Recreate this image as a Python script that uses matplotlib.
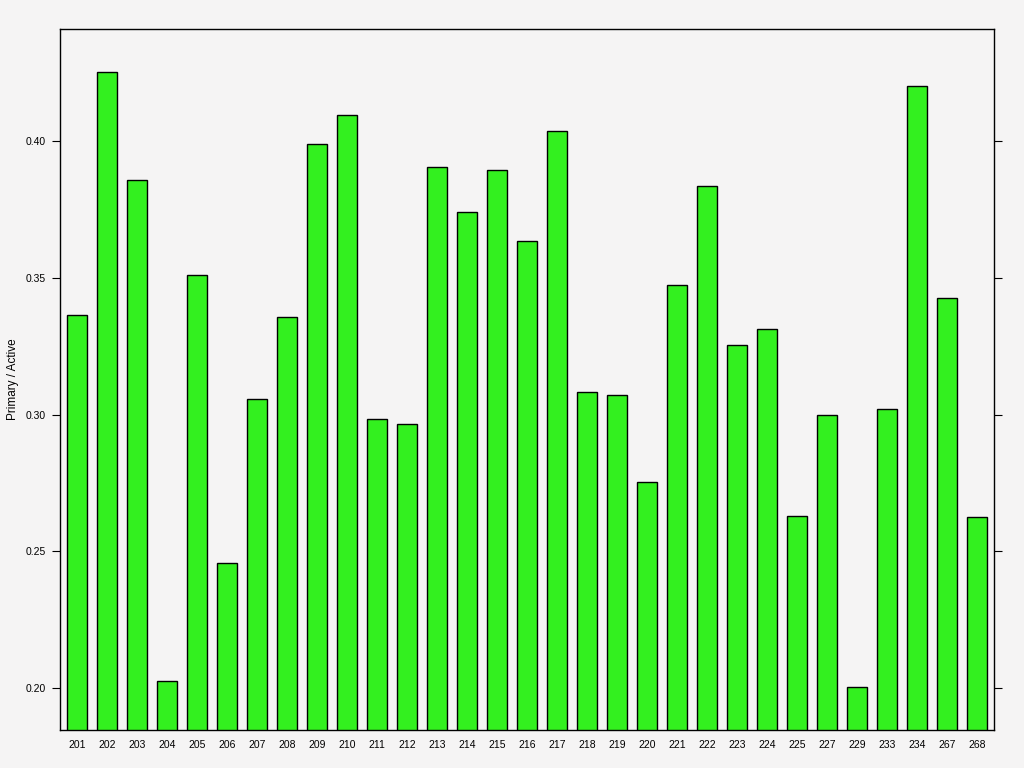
import matplotlib
matplotlib.use("Agg")
import matplotlib.pyplot as plt

plt.rcParams["font.family"] = ["Liberation Sans", "DejaVu Sans"]

# Bar labels and values
groups = ["201", "202", "203", "204", "205", "206", "207", "208", "209", "210",
          "211", "212", "213", "214", "215", "216", "217", "218", "219", "220",
          "221", "222", "223", "224", "225", "227", "229", "233", "234", "267", "268"]
ratios = [0.3365, 0.4252, 0.3858, 0.2026, 0.3511, 0.2456, 0.3058, 0.3358, 0.3989, 0.4095,
          0.2985, 0.2964, 0.3905, 0.3741, 0.3894, 0.3635, 0.4036, 0.3084, 0.3073, 0.2755,
          0.3474, 0.3836, 0.3255, 0.3314, 0.2628, 0.3000, 0.2004, 0.3022, 0.4201, 0.3427, 0.2624]
y_ticks = [0.20, 0.25, 0.30, 0.35, 0.40]

bg = "#f5f4f4"
fig = plt.figure(figsize=(10.24, 7.68), dpi=100, facecolor=bg)
ax = fig.add_axes([60 / 1024, 38 / 768, 934 / 1024, 701 / 768])
ax.set_facecolor(bg)

x = list(range(len(groups)))
ax.bar(x, ratios, width=0.667, bottom=0, color="#33f01f", edgecolor="black", linewidth=1.0)

ax.set_xlim(-0.567, len(groups) - 1 + 0.567)
ax.set_ylim(0.1847, 0.4409)

ax.set_xticks(x)
ax.set_xticklabels(groups, fontsize=7.5)
ax.tick_params(axis="x", length=0, pad=7)

ax.set_yticks(y_ticks)
ax.set_yticklabels([f"{t:.2f}" for t in y_ticks], fontsize=7.5)
ax.tick_params(axis="y", direction="out", length=6, right=True, labelright=False, pad=4)

ax.set_ylabel("Primary / Active", fontsize=8.5)
ax.yaxis.set_label_coords(-0.0435, 0.5)

for s in ax.spines.values():
    s.set_linewidth(1.0)

fig.savefig("out.png", dpi=100, facecolor=bg)
